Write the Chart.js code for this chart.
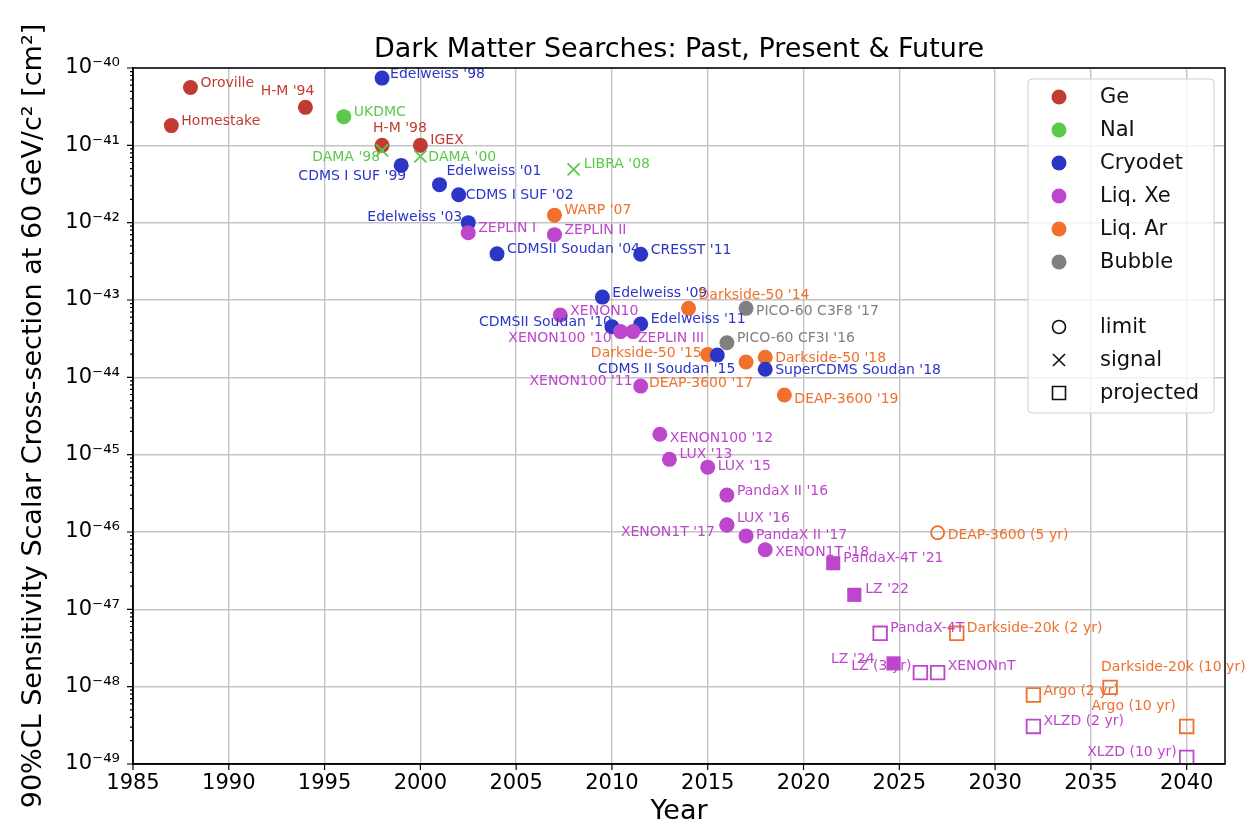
<!DOCTYPE html>
<html lang="en">
<head>
<meta charset="UTF-8">
<title>Dark Matter Searches: Past, Present &amp; Future</title>
<script src="https://cdn.jsdelivr.net/npm/chart.js"></script>
<style>
  html, body { margin: 0; padding: 0; background: #fff; }
  #wrap { width: 1256px; height: 829px; }
</style>
</head>
<body>
<div id="wrap"><canvas id="chart" width="1256" height="829"></canvas></div>
<script>
// ---- data ----
const xTickYears = [1985, 1990, 1995, 2000, 2005, 2010, 2015, 2020, 2025, 2030, 2035, 2040];
const yTickExponents = [-49, -48, -47, -46, -45, -44, -43, -42, -41, -40];

// kinds: limit = filled circle, signal = x, result = filled square,
// projected = open square, projLimit = open circle
const geNames = ['Homestake', 'Oroville', "H-M '94", "H-M '98", 'IGEX'];
const geYears = [1987, 1988, 1994, 1998, 2000];
const geSigma = [1.8e-41, 5.6e-41, 3.1e-41, 1.0e-41, 1.0e-41];
const geKinds = ['limit', 'limit', 'limit', 'limit', 'limit'];

const naiNames = ['UKDMC', "DAMA '98", "DAMA '00", "LIBRA '08"];
const naiYears = [1996, 1998, 2000, 2008];
const naiSigma = [2.35e-41, 8.6e-42, 7.2e-42, 4.9e-42];
const naiKinds = ['limit', 'signal', 'signal', 'signal'];

const cryoNames = ["Edelweiss '98", "CDMS I SUF '99", "Edelweiss '01", "CDMS I SUF '02", "Edelweiss '03",
  "CDMSII Soudan '04", "Edelweiss '09", "CDMSII Soudan '10", "Edelweiss '11", "CRESST '11",
  "CDMS II Soudan '15", "SuperCDMS Soudan '18"];
const cryoYears = [1998, 1999, 2001, 2002, 2002.5, 2004, 2009.5, 2010, 2011.5, 2011.5, 2015.5, 2018];
const cryoSigma = [7.4e-41, 5.5e-42, 3.1e-42, 2.3e-42, 1.0e-42, 3.95e-43, 1.09e-43, 4.5e-44, 4.9e-44, 3.9e-43, 1.94e-44, 1.27e-44];
const cryoKinds = cryoNames.map(() => 'limit');

const xeNames = ['ZEPLIN I', 'ZEPLIN II', 'XENON10', "XENON100 '10", 'ZEPLIN III', "XENON100 '11",
  "XENON100 '12", "LUX '13", "LUX '15", "PandaX II '16", "LUX '16", "XENON1T '17", "PandaX II '17",
  "XENON1T '18", "PandaX-4T '21", "LZ '22", "LZ '24", 'PandaX-4T', 'LZ (3 yr)', 'XENONnT',
  'XLZD (2 yr)', 'XLZD (10 yr)'];
const xeYears = [2002.5, 2007, 2007.3, 2010.45, 2011.1, 2011.5, 2012.5, 2013, 2015, 2016, 2016, 2016, 2017,
  2018, 2021.55, 2022.65, 2024.7, 2024, 2026.1, 2027, 2032, 2040];
const xeSigma = [7.4e-43, 7.0e-43, 6.4e-44, 3.9e-44, 3.9e-44, 7.7e-45, 1.84e-45, 8.7e-46, 6.9e-46, 3.0e-46,
  1.24e-46, 1.22e-46, 8.9e-47, 5.9e-47, 3.95e-47, 1.54e-47, 2.0e-48, 4.9e-48, 1.52e-48, 1.52e-48, 3.06e-49, 1.22e-49];
const xeKinds = ['limit', 'limit', 'limit', 'limit', 'limit', 'limit', 'limit', 'limit', 'limit', 'limit',
  'limit', 'limit', 'limit', 'limit', 'result', 'result', 'result', 'projected', 'projected', 'projected',
  'projected', 'projected'];

const arNames = ["WARP '07", "Darkside-50 '14", "Darkside-50 '15", "DEAP-3600 '17", "Darkside-50 '18",
  "DEAP-3600 '19", 'DEAP-3600 (5 yr)', 'Darkside-20k (2 yr)', 'Argo (2 yr)', 'Darkside-20k (10 yr)', 'Argo (10 yr)'];
const arYears = [2007, 2014, 2015, 2017, 2018, 2019, 2027, 2028, 2032, 2036, 2040];
const arSigma = [1.25e-42, 7.8e-44, 1.98e-44, 1.58e-44, 1.82e-44, 5.9e-45, 9.8e-47, 4.9e-48, 7.8e-49, 9.8e-49, 3.06e-49];
const arKinds = ['limit', 'limit', 'limit', 'limit', 'limit', 'limit', 'projLimit', 'projected', 'projected', 'projected', 'projected'];

const bubbleNames = ["PICO-60 CF3I '16", "PICO-60 C3F8 '17"];
const bubbleYears = [2016, 2017];
const bubbleSigma = [2.8e-44, 7.8e-44];
const bubbleKinds = ['limit', 'limit'];

// ---- label placement (pixel offset from the point, text alignment) ----
const gePlace = [[10, -4, 'left'], [10, -4, 'left'], [9, -16, 'right'], [-9, -17, 'left'], [10, -5, 'left']];
const naiPlace = [[10, -4, 'left'], [-2, 7, 'right'], [8, 1, 'left'], [10, -5, 'left']];
const cryoPlace = [[8, -4, 'left'], [5, 11, 'right'], [7, -13, 'left'], [7, 1, 'left'], [-6, -5, 'right'],
  [10, -5, 'left'], [10, -4, 'left'], [0, -4, 'right'], [10, -5, 'left'], [10, -4, 'left'],
  [18, 14, 'right'], [10, 1, 'left']];
const xePlace = [[10, -4, 'left'], [10, -4, 'left'], [10, -4, 'left'], [-9, 7, 'right'], [5, 7, 'left'],
  [-8, -5, 'right'], [10, 4, 'left'], [10, -5, 'left'], [10, -1, 'left'], [10, -4, 'left'], [10, -6, 'left'],
  [-12, 7, 'right'], [10, -1, 'left'], [10, 3, 'left'], [10, -5, 'left'], [11, -5, 'left'], [-19, -4, 'right'],
  [10, -5, 'left'], [-9, -6, 'right'], [10, -6, 'left'], [10, -5, 'left'], [-10, -5, 'right']];
const arPlace = [[10, -5, 'left'], [10, -13, 'left'], [-6, -1, 'right'], [7, 21, 'right'], [10, 1, 'left'],
  [10, 4, 'left'], [10, 3, 'left'], [10, -5, 'left'], [10, -4, 'left'], [-9, -20, 'left'], [-11, -20, 'right']];
const bubblePlace = [[10, -4, 'left'], [10, 3, 'left']];

// order: higher is drawn first (underneath)
const categories = [
  { name: 'Ge', color: '#c23b33', names: geNames, years: geYears, sigma: geSigma, kinds: geKinds, place: gePlace, order: 6 },
  { name: 'NaI', color: '#5bc94a', names: naiNames, years: naiYears, sigma: naiSigma, kinds: naiKinds, place: naiPlace, order: 5 },
  { name: 'Cryodet', color: '#2b36c6', names: cryoNames, years: cryoYears, sigma: cryoSigma, kinds: cryoKinds, place: cryoPlace, order: 2 },
  { name: 'Liq. Xe', color: '#bd47cc', names: xeNames, years: xeYears, sigma: xeSigma, kinds: xeKinds, place: xePlace, order: 1 },
  { name: 'Liq. Ar', color: '#f0702c', names: arNames, years: arYears, sigma: arSigma, kinds: arKinds, place: arPlace, order: 4 },
  { name: 'Bubble', color: '#808080', names: bubbleNames, years: bubbleYears, sigma: bubbleSigma, kinds: bubbleKinds, place: bubblePlace, order: 3 }
];

const kindStyle = {
  limit:     { pointStyle: 'circle',   radius: 7.5, filled: true },
  signal:    { pointStyle: 'crossRot', radius: 8.5, filled: false },
  result:    { pointStyle: 'rect',     radius: 10,  filled: true },
  projected: { pointStyle: 'rect',     radius: 9.6, filled: false },
  projLimit: { pointStyle: 'circle',   radius: 6.5, filled: false }
};

const datasets = [];
categories.forEach(cat => {
  Object.keys(kindStyle).forEach(kind => {
    const idx = cat.kinds.map((k, i) => k === kind ? i : -1).filter(i => i >= 0);
    if (!idx.length) return;
    const st = kindStyle[kind];
    datasets.push({
      label: cat.name + ' ' + kind,
      data: idx.map(i => ({ x: cat.years[i], y: cat.sigma[i] })),
      names: idx.map(i => cat.names[i]),
      place: idx.map(i => cat.place[i]),
      textColor: cat.color,
      order: cat.order,
      pointStyle: st.pointStyle,
      pointRadius: st.radius,
      pointHoverRadius: st.radius,
      backgroundColor: st.filled ? cat.color : 'rgba(0,0,0,0)',
      borderColor: cat.color,
      borderWidth: st.filled ? 0 : 1.8,
      showLine: false
    });
  });
});

const SUP = { '-': '\u207B', '0': '\u2070', '1': '\u00B9', '2': '\u00B2', '3': '\u00B3', '4': '\u2074',
  '5': '\u2075', '6': '\u2076', '7': '\u2077', '8': '\u2078', '9': '\u2079' };
function pow10Label(e) {
  return '10' + String(e).split('').map(c => SUP[c]).join('');
}
function isDecade(v) {
  const l = Math.log10(v);
  return Math.abs(l - Math.round(l)) < 1e-6;
}

// labels next to each point
const pointLabels = {
  id: 'pointLabels',
  afterDatasetsDraw(chart) {
    const ctx = chart.ctx;
    ctx.save();
    ctx.font = '14px "DejaVu Sans"';
    ctx.textBaseline = 'middle';
    chart.data.datasets.forEach((ds, i) => {
      const meta = chart.getDatasetMeta(i);
      meta.data.forEach((pt, j) => {
        const p = ds.place[j];
        ctx.fillStyle = ds.textColor;
        ctx.textAlign = p[2];
        ctx.fillText(ds.names[j], pt.x + p[0], pt.y + p[1]);
      });
    });
    ctx.restore();
  }
};

// frame, tick marks and legend
const frameAndLegend = {
  id: 'frameAndLegend',
  afterDraw(chart) {
    const ctx = chart.ctx;
    const a = chart.chartArea;
    const xs = chart.scales.x, ys = chart.scales.y;
    ctx.save();
    ctx.strokeStyle = '#000';
    ctx.lineWidth = 1.2;
    ctx.beginPath();
    xTickYears.forEach(v => {
      const px = xs.getPixelForValue(v);
      ctx.moveTo(px, a.bottom); ctx.lineTo(px, a.bottom + 6);
    });
    ys.ticks.forEach(t => {
      const py = ys.getPixelForValue(t.value);
      const len = isDecade(t.value) ? 6 : 3;
      ctx.moveTo(a.left, py); ctx.lineTo(a.left - len, py);
    });
    ctx.stroke();
    ctx.lineWidth = 1.5;
    ctx.strokeRect(a.left, a.top, a.right - a.left, a.bottom - a.top);

    // legend
    const bw = 186, bh = 334;
    const bx = a.right - 11 - bw, by = a.top + 11;
    ctx.beginPath();
    ctx.roundRect(bx, by, bw, bh, 4);
    ctx.fillStyle = 'rgba(255,255,255,0.8)';
    ctx.fill();
    ctx.strokeStyle = '#d0d0d0';
    ctx.lineWidth = 1;
    ctx.stroke();

    ctx.font = '21px "DejaVu Sans"';
    ctx.textBaseline = 'middle';
    ctx.textAlign = 'left';
    const mx = bx + 31, tx = bx + 72;
    categories.forEach((cat, i) => {
      const yy = by + 18 + i * 33;
      ctx.fillStyle = cat.color;
      ctx.beginPath();
      ctx.arc(mx, yy, 7.5, 0, Math.PI * 2);
      ctx.fill();
      ctx.fillStyle = '#111';
      ctx.fillText(cat.name, tx, yy + 1);
    });
    const shapes = [['limit', 'circle'], ['signal', 'x'], ['projected', 'square']];
    ctx.strokeStyle = '#111';
    ctx.lineWidth = 1.6;
    shapes.forEach((s, i) => {
      const yy = by + 18 + (i + 7) * 33 - 1;
      ctx.beginPath();
      if (s[1] === 'circle') {
        ctx.arc(mx, yy, 6.5, 0, Math.PI * 2);
      } else if (s[1] === 'x') {
        ctx.moveTo(mx - 6, yy - 6); ctx.lineTo(mx + 6, yy + 6);
        ctx.moveTo(mx + 6, yy - 6); ctx.lineTo(mx - 6, yy + 6);
      } else {
        ctx.rect(mx - 6.5, yy - 6.5, 13, 13);
      }
      ctx.stroke();
      ctx.fillStyle = '#111';
      ctx.fillText(s[0], tx, yy + 1);
    });
    ctx.restore();
  }
};

Chart.defaults.font.family = '"DejaVu Sans", sans-serif';
Chart.defaults.color = '#000';

new Chart(document.getElementById('chart'), {
  type: 'scatter',
  data: { datasets: datasets },
  options: {
    responsive: false,
    devicePixelRatio: 1,
    animation: false,
    layout: { padding: { top: 0, right: 31, bottom: 0, left: 0 } },
    plugins: {
      legend: { display: false },
      tooltip: { enabled: false },
      title: {
        display: true,
        text: 'Dark Matter Searches: Past, Present & Future',
        fullSize: false,
        color: '#000',
        font: { size: 27, weight: 'normal', lineHeight: 1.2 },
        padding: { top: 34, bottom: 1.6 }
      }
    },
    scales: {
      x: {
        type: 'linear',
        min: 1985,
        max: 2042,
        afterBuildTicks: (scale) => { scale.ticks = xTickYears.map(v => ({ value: v })); },
        afterFit: (scale) => { scale.height = 65; },
        ticks: { callback: (v) => String(v), font: { size: 21 }, padding: 7, autoSkip: false, maxRotation: 0 },
        grid: { color: '#c4c4c4', lineWidth: 1.4, drawTicks: false },
        border: { color: '#000', width: 1.5 },
        title: { display: true, text: 'Year', font: { size: 27, lineHeight: 1.2 }, padding: { top: 0, bottom: 1 } }
      },
      y: {
        type: 'logarithmic',
        min: 1e-49,
        max: 1e-40,
        afterBuildTicks: (scale) => {
          const t = [];
          yTickExponents.forEach((e, i) => {
            for (let m = 1; m <= 9; m++) {
              if (i === yTickExponents.length - 1 && m > 1) break;
              t.push({ value: Number(m + 'e' + e) });
            }
          });
          scale.ticks = t;
        },
        afterFit: (scale) => { scale.width = 133; },
        ticks: {
          autoSkip: false,
          padding: 13,
          font: { size: 21 },
          callback: (v) => isDecade(v) ? pow10Label(Math.round(Math.log10(v))) : ''
        },
        grid: {
          drawTicks: false,
          lineWidth: 1.4,
          color: (c) => (c.tick && isDecade(c.tick.value)) ? '#c4c4c4' : 'rgba(0,0,0,0)'
        },
        border: { color: '#000', width: 1.5 },
        title: {
          display: true,
          text: '90%CL Sensitivity Scalar Cross-section at 60 GeV/c\u00B2 [cm\u00B2]',
          font: { size: 27, lineHeight: 1.2 },
          padding: { top: 18, bottom: 0 }
        }
      }
    }
  },
  plugins: [pointLabels, frameAndLegend]
});
</script>
</body>
</html>
